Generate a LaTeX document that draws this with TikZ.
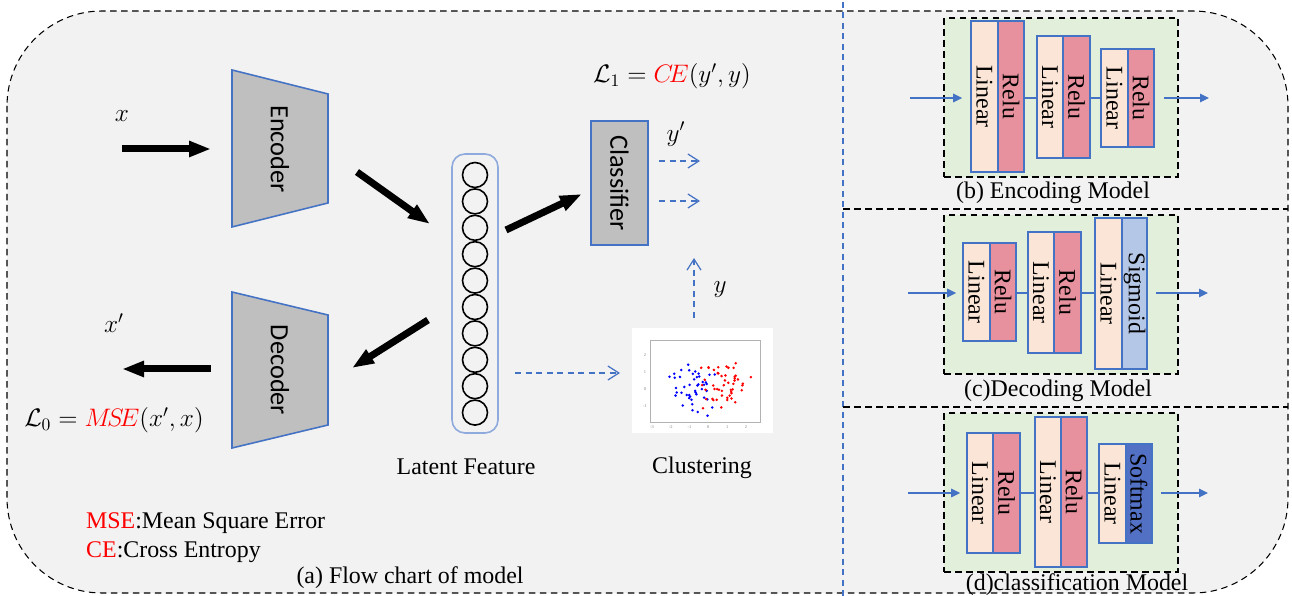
\documentclass[tikz,border=0pt]{standalone}
\usepackage{fontspec}
\setmainfont{Liberation Serif}
\newfontfamily\calib{Carlito}
\usepackage{xcolor}
\usepackage{tikz}
\usetikzlibrary{arrows.meta,positioning,calc,fit}
\definecolor{mblue}{HTML}{4472C4}
\definecolor{mlight}{HTML}{8FAADC}
\definecolor{mgray}{HTML}{BFBFBF}
\definecolor{mback}{HTML}{F2F2F2}
\definecolor{mgreen}{HTML}{E2EFDA}
\definecolor{mpeach}{HTML}{FBE5D6}
\definecolor{mpink}{HTML}{E8919E}
\definecolor{msig}{HTML}{B4C7E7}
\definecolor{msoft}{HTML}{5270C4}
\definecolor{mred}{HTML}{FF0000}
\newcommand\mtxt{\fontsize{13.6}{16}\selectfont}
\newcommand\mmath{\fontsize{14}{17}\selectfont}
\tikzset{
  mframe/.style={draw=black, dash pattern=on 1.3mm off 0.9mm, line width=0.6pt},
  mgreenbox/.style={mframe, fill=mgreen, inner sep=0pt},
  mblock/.style={draw=mblue, fill=mgray, line width=0.9pt},
  mlayer/.style={draw=mblue, line width=0.9pt, inner sep=0pt, font=\mtxt},
  mlin/.style={mlayer, fill=mpeach},
  mrelu/.style={mlayer, fill=mpink},
  mbig/.style={line width=1.4mm, -{Triangle[length=4.4mm,width=3mm]}},
  mdash/.style={draw=mblue, line width=0.7pt, dash pattern=on 1.2mm off 0.9mm,
                -{Straight Barb[length=2.2mm,width=2.8mm]}},
  mflow/.style={draw=mblue, line width=0.7pt, -{Triangle[length=1.8mm,width=1.7mm]}},
  mlink/.style={draw=mblue, line width=0.7pt},
  mlbl/.style={font=\mtxt},
  mmth/.style={font=\mmath},
}

\begin{document}
\begin{tikzpicture}[x=0.2mm, y=-0.2mm]
  \useasboundingbox (0,0) rectangle (1292,596);

  % cadre exterieur
  \draw[mframe, fill=mback, rounded corners=19mm] (7,11) rectangle (1288,593);
  \draw[mblue, line width=0.6pt, dash pattern=on 1.2mm off 0.9mm] (843,2) -- (843,596);
  \draw[mframe] (843,209) -- (1288,209);
  \draw[mframe] (843,407) -- (1288,407);

  % encodeur / decodeur
  \draw[mblock] (232,70) -- (328,94) -- (328,203) -- (232,227) -- cycle;
  \node[font=\calib\fontsize{15}{18}\selectfont] (enc) at (280,149) {\rotatebox{-90}{Encoder}};
  \draw[mblock] (232,292) -- (328,315) -- (328,425) -- (232,448) -- cycle;
  \node[font=\calib\fontsize{15}{18}\selectfont] (dec) at (280,370) {\rotatebox{-90}{Decoder}};

  % entree et sortie
  \coordinate (xin) at (122,149);
  \coordinate (encin) at (211,149);
  \coordinate (decout) at (211,369);
  \coordinate (xout) at (122,369);
  \draw[mbig] (xin) -- (encin);
  \draw[mbig] (decout) -- (xout);
  \node[mmth] (xlbl) at (122,116) {$x$};
  \node[mmth] (xplbl) at (114,323) {$x'$};
  \node[mmth] (loss0) at (114,420) {$\mathcal{L}_0 = \textcolor{mred}{M\!S\!E}(x',x)$};

  % espace latent
  \node[draw=mlight, line width=0.9pt, rounded corners=2.6mm, inner sep=0pt,
        fit={(452,154) (498,433)}] (lat) {};
  \foreach \i in {0,...,9}
    \node[circle, draw=black, line width=0.9pt, minimum size=5mm, inner sep=0pt]
      (c\i) at (475,{175+26.4*\i}) {};
  \node[mlbl] (latlbl) at (466,467) {Latent Feature};

  \coordinate (e1) at (357,172);
  \coordinate (e2) at (430,224);
  \coordinate (d1) at (428,320);
  \coordinate (d2) at (352,368);
  \coordinate (k1) at (506,230);
  \coordinate (k2) at (582,194);
  \draw[mbig] (e1) -- (e2);
  \draw[mbig] (d1) -- (d2);
  \draw[mbig] (k1) -- (k2);

  % classifieur
  \node[mblock, inner sep=0pt, font=\calib\fontsize{15}{18}\selectfont,
        fit={(591,121) (648,245)}] (cls) {\rotatebox{-90}{Classifier}};
  \node[mmth] (loss1) at (672,76) {$\mathcal{L}_1 = \textcolor{mred}{C\!E}(y',y)$};
  \node[mmth] (yplbl) at (676,134) {$y'$};
  \coordinate (o1) at (659,161);
  \coordinate (o2) at (659,201);
  \draw[mdash] (o1) -- ++(41,0);
  \draw[mdash] (o2) -- ++(41,0);

  % clustering
  \node[fill=white, inner sep=0pt, fit={(632,328) (773,433)}] (clu) {};
  \draw[gray!60, line width=0.4pt] (650,340) rectangle (760,422);
  \foreach \t in {-3,...,2}
    \node[gray, font=\fontsize{2.5}{3}\selectfont] at ({708.3+18.8*\t},427) {\t};
  \foreach \t in {-1,...,2}
    \node[gray, font=\fontsize{2.5}{3}\selectfont] at (645,{389-17*\t}) {\t};
  \begin{scope}
    \clip (650,340) rectangle (760,422);
    \pgfmathsetseed{11}
    \foreach \k in {1,...,45}{
      \pgfmathsetmacro\px{-0.9+0.8*(rand+rand)}
      \pgfmathsetmacro\py{-0.1+0.9*(rand+rand)}
      \fill[blue] ({708.3+18.8*\px},{389-17*\py}) circle (1.4);
    }
    \foreach \k in {1,...,50}{
      \pgfmathsetmacro\px{0.9+0.75*(rand+rand)}
      \pgfmathsetmacro\py{0.2+0.9*(rand+rand)}
      \fill[red] ({708.3+18.8*\px},{389-17*\py}) circle (1.4);
    }
  \end{scope}
  \node[mlbl] (clulbl) at (702,468) {Clustering};

  \coordinate (l1) at (515,373);
  \coordinate (l2) at (620,373);
  \draw[mdash] (l1) -- (l2);
  \coordinate (u1) at (694,318);
  \coordinate (u2) at (694,258);
  \draw[mdash] (u1) -- (u2);
  \node[mmth] (ylbl) at (720,290) {$y$};

  % legende
  \node[mlbl, anchor=west] (leg1) at (80,523) {\textcolor{mred}{MSE}:Mean Square Error};
  \node[mlbl, anchor=west] (leg2) at (80,552) {\textcolor{mred}{CE}:Cross Entropy};
  \node[mlbl] (capa) at (410,578) {(a) Flow chart of model};

  % (b) encodage
  \node[mgreenbox, fit={(944,18) (1178,177)}] (gb) {};
  \node[mlin, fit={(971,21) (998,172)}] (b1a) {\rotatebox{-90}{Linear}};
  \node[mrelu, fit={(998,21) (1024,172)}] (b1b) {\rotatebox{-90}{Relu}};
  \node[mlin, fit={(1037,36) (1063,158)}] (b2a) {\rotatebox{-90}{Linear}};
  \node[mrelu, fit={(1063,36) (1090,158)}] (b2b) {\rotatebox{-90}{Relu}};
  \node[mlin, fit={(1101,49) (1128,147)}] (b3a) {\rotatebox{-90}{Linear}};
  \node[mrelu, fit={(1128,49) (1154,147)}] (b3b) {\rotatebox{-90}{Relu}};
  \coordinate (bin) at (910,98);
  \coordinate (bout) at (1209,98);
  \draw[mflow, shorten >=1.6mm] (bin) -- (b1a.west |- bin);
  \draw[mlink] (b1b.east |- bin) -- (b2a.west |- bin);
  \draw[mlink] (b2b.east |- bin) -- (b3a.west |- bin);
  \draw[mflow, shorten <=1.8mm] (b3b.east |- bout) -- (bout);
  \node[mlbl] (capb) at (1053,193) {(b) Encoding Model};

  % (c) decodage
  \node[mgreenbox, fit={(944,215) (1178,374)}] (gc) {};
  \node[mlin, fit={(963,243) (990,341)}] (c1a) {\rotatebox{-90}{Linear}};
  \node[mrelu, fit={(990,243) (1016,341)}] (c1b) {\rotatebox{-90}{Relu}};
  \node[mlin, fit={(1028,232) (1054,353)}] (c2a) {\rotatebox{-90}{Linear}};
  \node[mrelu, fit={(1054,232) (1081,353)}] (c2b) {\rotatebox{-90}{Relu}};
  \node[mlin, fit={(1095,218) (1122,369)}] (c3a) {\rotatebox{-90}{Linear}};
  \node[mlayer, fill=msig, fit={(1122,218) (1147,369)}] (c3b) {\rotatebox{-90}{Sigmoid}};
  \coordinate (cin) at (908,293);
  \coordinate (cout) at (1208,293);
  \draw[mflow, shorten >=1.2mm] (cin) -- (c1a.west |- cin);
  \draw[mlink] (c1b.east |- cin) -- (c2a.west |- cin);
  \draw[mlink] (c2b.east |- cin) -- (c3a.west |- cin);
  \draw[mflow, shorten <=1.6mm] (c3b.east |- cout) -- (cout);
  \node[mlbl] (capc) at (1058,391) {(c)Decoding Model};

  % (d) classification
  \node[mgreenbox, fit={(944,413) (1178,572)}] (gd) {};
  \node[mlin, fit={(967,433) (993,553)}] (d1a) {\rotatebox{-90}{Linear}};
  \node[mrelu, fit={(993,433) (1020,553)}] (d1b) {\rotatebox{-90}{Relu}};
  \node[mlin, fit={(1035,417) (1061,567)}] (d2a) {\rotatebox{-90}{Linear}};
  \node[mrelu, fit={(1061,417) (1087,567)}] (d2b) {\rotatebox{-90}{Relu}};
  \node[mlin, fit={(1099,444) (1126,543)}] (d3a) {\rotatebox{-90}{Linear}};
  \node[mlayer, fill=msoft, fit={(1126,444) (1152,543)}] (d3b) {\rotatebox{-90}{Softmax}};
  \coordinate (din) at (908,493);
  \coordinate (dout) at (1208,493);
  \draw[mflow, shorten >=1.2mm] (din) -- (d1a.west |- din);
  \draw[mlink] (d1b.east |- din) -- (d2a.west |- din);
  \draw[mlink] (d2b.east |- din) -- (d3a.west |- din);
  \draw[mflow, shorten <=1.6mm] (d3b.east |- dout) -- (dout);
  \node[mlbl] (capd) at (1077,585) {(d)classification Model};

\end{tikzpicture}
\end{document}
